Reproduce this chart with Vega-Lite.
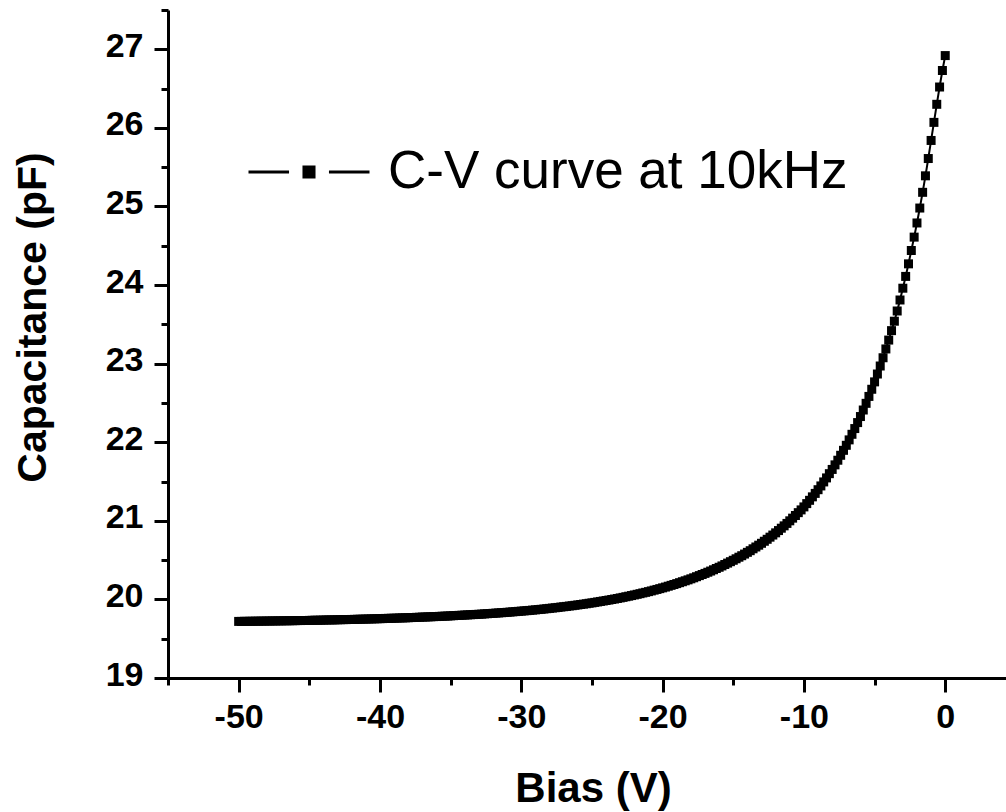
{
"$schema": "https://vega.github.io/schema/vega-lite/v6.json",
"width": 838,
"height": 668,
"autosize": {"type": "none"},
"padding": {"left": 168, "top": 10, "right": 0, "bottom": 134},
"background": "white",
"config": {"view": {"stroke": null}, "font": "Liberation Sans"},
"data": {"values": [
{"V":-50,"C":19.720},{"V":-49.8,"C":19.720},{"V":-49.6,"C":19.721},{"V":-49.4,"C":19.721},{"V":-49.2,"C":19.722},
{"V":-49,"C":19.722},{"V":-48.8,"C":19.723},{"V":-48.6,"C":19.723},{"V":-48.4,"C":19.724},{"V":-48.2,"C":19.724},
{"V":-48,"C":19.725},{"V":-47.8,"C":19.725},{"V":-47.6,"C":19.726},{"V":-47.4,"C":19.726},{"V":-47.2,"C":19.727},
{"V":-47,"C":19.727},{"V":-46.8,"C":19.728},{"V":-46.6,"C":19.728},{"V":-46.4,"C":19.729},{"V":-46.2,"C":19.729},
{"V":-46,"C":19.730},{"V":-45.8,"C":19.731},{"V":-45.6,"C":19.731},{"V":-45.4,"C":19.732},{"V":-45.2,"C":19.732},
{"V":-45,"C":19.733},{"V":-44.8,"C":19.734},{"V":-44.6,"C":19.735},{"V":-44.4,"C":19.735},{"V":-44.2,"C":19.736},
{"V":-44,"C":19.737},{"V":-43.8,"C":19.738},{"V":-43.6,"C":19.739},{"V":-43.4,"C":19.739},{"V":-43.2,"C":19.740},
{"V":-43,"C":19.741},{"V":-42.8,"C":19.742},{"V":-42.6,"C":19.743},{"V":-42.4,"C":19.743},{"V":-42.2,"C":19.744},
{"V":-42,"C":19.745},{"V":-41.8,"C":19.746},{"V":-41.6,"C":19.747},{"V":-41.4,"C":19.748},{"V":-41.2,"C":19.749},
{"V":-41,"C":19.750},{"V":-40.8,"C":19.751},{"V":-40.6,"C":19.752},{"V":-40.4,"C":19.753},{"V":-40.2,"C":19.754},
{"V":-40,"C":19.755},{"V":-39.8,"C":19.756},{"V":-39.6,"C":19.758},{"V":-39.4,"C":19.759},{"V":-39.2,"C":19.760},
{"V":-39,"C":19.761},{"V":-38.8,"C":19.762},{"V":-38.6,"C":19.764},{"V":-38.4,"C":19.765},{"V":-38.2,"C":19.766},
{"V":-38,"C":19.767},{"V":-37.8,"C":19.769},{"V":-37.6,"C":19.770},{"V":-37.4,"C":19.772},{"V":-37.2,"C":19.773},
{"V":-37,"C":19.775},{"V":-36.8,"C":19.776},{"V":-36.6,"C":19.778},{"V":-36.4,"C":19.779},{"V":-36.2,"C":19.781},
{"V":-36,"C":19.782},{"V":-35.8,"C":19.784},{"V":-35.6,"C":19.786},{"V":-35.4,"C":19.787},{"V":-35.2,"C":19.789},
{"V":-35,"C":19.791},{"V":-34.8,"C":19.793},{"V":-34.6,"C":19.795},{"V":-34.4,"C":19.797},{"V":-34.2,"C":19.799},
{"V":-34,"C":19.801},{"V":-33.8,"C":19.803},{"V":-33.6,"C":19.805},{"V":-33.4,"C":19.807},{"V":-33.2,"C":19.809},
{"V":-33,"C":19.811},{"V":-32.8,"C":19.813},{"V":-32.6,"C":19.816},{"V":-32.4,"C":19.818},{"V":-32.2,"C":19.821},
{"V":-32,"C":19.823},{"V":-31.8,"C":19.826},{"V":-31.6,"C":19.828},{"V":-31.4,"C":19.831},{"V":-31.2,"C":19.833},
{"V":-31,"C":19.836},{"V":-30.8,"C":19.839},{"V":-30.6,"C":19.842},{"V":-30.4,"C":19.845},{"V":-30.2,"C":19.848},
{"V":-30,"C":19.851},{"V":-29.8,"C":19.854},{"V":-29.6,"C":19.857},{"V":-29.4,"C":19.860},{"V":-29.2,"C":19.864},
{"V":-29,"C":19.867},{"V":-28.8,"C":19.871},{"V":-28.6,"C":19.874},{"V":-28.4,"C":19.878},{"V":-28.2,"C":19.882},
{"V":-28,"C":19.886},{"V":-27.8,"C":19.890},{"V":-27.6,"C":19.894},{"V":-27.4,"C":19.898},{"V":-27.2,"C":19.903},
{"V":-27,"C":19.907},{"V":-26.8,"C":19.911},{"V":-26.6,"C":19.916},{"V":-26.4,"C":19.920},{"V":-26.2,"C":19.925},
{"V":-26,"C":19.930},{"V":-25.8,"C":19.935},{"V":-25.6,"C":19.940},{"V":-25.4,"C":19.945},{"V":-25.2,"C":19.951},
{"V":-25,"C":19.956},{"V":-24.8,"C":19.962},{"V":-24.6,"C":19.968},{"V":-24.4,"C":19.974},{"V":-24.2,"C":19.980},
{"V":-24,"C":19.986},{"V":-23.8,"C":19.992},{"V":-23.6,"C":19.999},{"V":-23.4,"C":20.005},{"V":-23.2,"C":20.012},
{"V":-23,"C":20.019},{"V":-22.8,"C":20.026},{"V":-22.6,"C":20.034},{"V":-22.4,"C":20.041},{"V":-22.2,"C":20.049},
{"V":-22,"C":20.057},{"V":-21.8,"C":20.065},{"V":-21.6,"C":20.073},{"V":-21.4,"C":20.082},{"V":-21.2,"C":20.090},
{"V":-21,"C":20.099},{"V":-20.8,"C":20.108},{"V":-20.6,"C":20.118},{"V":-20.4,"C":20.127},{"V":-20.2,"C":20.137},
{"V":-20,"C":20.147},{"V":-19.8,"C":20.157},{"V":-19.6,"C":20.168},{"V":-19.4,"C":20.179},{"V":-19.2,"C":20.190},
{"V":-19,"C":20.201},{"V":-18.8,"C":20.213},{"V":-18.6,"C":20.225},{"V":-18.4,"C":20.237},{"V":-18.2,"C":20.249},
{"V":-18,"C":20.262},{"V":-17.8,"C":20.275},{"V":-17.6,"C":20.289},{"V":-17.4,"C":20.303},{"V":-17.2,"C":20.317},
{"V":-17,"C":20.331},{"V":-16.8,"C":20.346},{"V":-16.6,"C":20.361},{"V":-16.4,"C":20.377},{"V":-16.2,"C":20.393},
{"V":-16,"C":20.409},{"V":-15.8,"C":20.426},{"V":-15.6,"C":20.444},{"V":-15.4,"C":20.462},{"V":-15.2,"C":20.480},
{"V":-15,"C":20.498},{"V":-14.8,"C":20.517},{"V":-14.6,"C":20.537},{"V":-14.4,"C":20.556},{"V":-14.2,"C":20.577},
{"V":-14,"C":20.599},{"V":-13.8,"C":20.620},{"V":-13.6,"C":20.644},{"V":-13.4,"C":20.667},{"V":-13.2,"C":20.690},
{"V":-13,"C":20.714},{"V":-12.8,"C":20.740},{"V":-12.6,"C":20.765},{"V":-12.4,"C":20.792},{"V":-12.2,"C":20.819},
{"V":-12,"C":20.847},{"V":-11.8,"C":20.876},{"V":-11.6,"C":20.906},{"V":-11.4,"C":20.936},{"V":-11.2,"C":20.967},
{"V":-11,"C":21.000},{"V":-10.8,"C":21.034},{"V":-10.6,"C":21.068},{"V":-10.4,"C":21.104},{"V":-10.2,"C":21.139},
{"V":-10,"C":21.177},{"V":-9.8,"C":21.219},{"V":-9.6,"C":21.261},{"V":-9.4,"C":21.305},{"V":-9.2,"C":21.349},
{"V":-9,"C":21.396},{"V":-8.8,"C":21.444},{"V":-8.6,"C":21.495},{"V":-8.4,"C":21.546},{"V":-8.2,"C":21.600},
{"V":-8,"C":21.654},{"V":-7.8,"C":21.712},{"V":-7.6,"C":21.771},{"V":-7.4,"C":21.834},{"V":-7.2,"C":21.897},
{"V":-7,"C":21.961},{"V":-6.8,"C":22.030},{"V":-6.6,"C":22.101},{"V":-6.4,"C":22.174},{"V":-6.2,"C":22.250},
{"V":-6,"C":22.327},{"V":-5.8,"C":22.410},{"V":-5.6,"C":22.495},{"V":-5.4,"C":22.583},{"V":-5.2,"C":22.674},
{"V":-5,"C":22.768},{"V":-4.8,"C":22.868},{"V":-4.6,"C":22.970},{"V":-4.4,"C":23.075},{"V":-4.2,"C":23.187},
{"V":-4,"C":23.300},{"V":-3.8,"C":23.42},{"V":-3.6,"C":23.54},{"V":-3.4,"C":23.67},{"V":-3.2,"C":23.81},
{"V":-3,"C":23.96},{"V":-2.8,"C":24.11},{"V":-2.6,"C":24.27},{"V":-2.4,"C":24.44},{"V":-2.2,"C":24.61},
{"V":-2,"C":24.79},{"V":-1.8,"C":24.98},{"V":-1.6,"C":25.18},{"V":-1.4,"C":25.39},{"V":-1.2,"C":25.61},
{"V":-1,"C":25.84},{"V":-0.8,"C":26.07},{"V":-0.6,"C":26.30},{"V":-0.4,"C":26.52},{"V":-0.2,"C":26.73},
{"V":0,"C":26.92}
]},
"encoding": {
  "x": {"field": "V", "type": "quantitative",
    "scale": {"domain": [-55, 4.3], "nice": false, "zero": false},
    "axis": {
      "values": [-55,-50,-45,-40,-35,-30,-25,-20,-15,-10,-5,0],
      "labelExpr": "datum.value % 10 === 0 ? '' + datum.value : ''",
      "tickSize": {"condition": {"test": "datum.value % 10 === 0", "value": 14}, "value": 7},
      "tickWidth": 3, "tickColor": "black",
      "domainWidth": 3, "domainColor": "black",
      "grid": false,
      "labelFont": "Liberation Sans", "labelFontSize": 34, "labelFontWeight": "bold", "labelColor": "black",
      "labelPadding": 8, "labelFlush": false, "labelOverlap": false,
      "title": "Bias (V)", "titleFont": "Liberation Sans", "titleFontSize": 42, "titleFontWeight": "bold", "titleColor": "black",
      "titleX": 425, "titleY": 123, "titleBaseline": "alphabetic", "titleAlign": "center"
    }
  },
  "y": {"field": "C", "type": "quantitative",
    "scale": {"domain": [19, 27.5], "nice": false, "zero": false},
    "axis": {
      "values": [19,19.5,20,20.5,21,21.5,22,22.5,23,23.5,24,24.5,25,25.5,26,26.5,27,27.5],
      "labelExpr": "datum.value % 1 === 0 ? '' + datum.value : ''",
      "tickSize": {"condition": {"test": "datum.value % 1 === 0", "value": 14}, "value": 7},
      "tickWidth": 3, "tickColor": "black",
      "domainWidth": 3, "domainColor": "black",
      "grid": false,
      "labelFont": "Liberation Sans", "labelFontSize": 34, "labelFontWeight": "bold", "labelColor": "black",
      "labelPadding": 11, "labelOffset": -3, "labelFlush": false, "labelOverlap": false,
      "title": "Capacitance (pF)", "titleFont": "Liberation Sans", "titleFontSize": 41, "titleFontWeight": "bold", "titleColor": "black",
      "titleX": -123, "titleY": 307, "titleBaseline": "alphabetic", "titleAlign": "center", "titleAngle": -90
    }
  }
},
"layer": [
  {"mark": {"type": "line", "color": "black", "strokeWidth": 2}, "encoding": {}},
  {"mark": {"type": "point", "shape": "square", "filled": true, "size": 81, "opacity": 1},
   "encoding": {
     "color": {"datum": "C-V curve at 10kHz", "type": "nominal",
       "scale": {"range": ["black"]},
       "legend": {
         "title": null, "orient": "none", "legendX": 79, "legendY": 100,
         "symbolType": "M-1,0H-0.33M0.33,0H1M-0.083,-0.083H0.083V0.083H-0.083Z",
         "symbolSize": 14641, "symbolFillColor": "black", "symbolStrokeColor": "black", "symbolStrokeWidth": 3,
         "symbolOpacity": 1,
         "labelFont": "Liberation Sans", "labelFontSize": 53, "labelColor": "black", "labelOffset": 17,
         "labelLimit": 0, "padding": 0
       }
     }
   }
  }
]
}
